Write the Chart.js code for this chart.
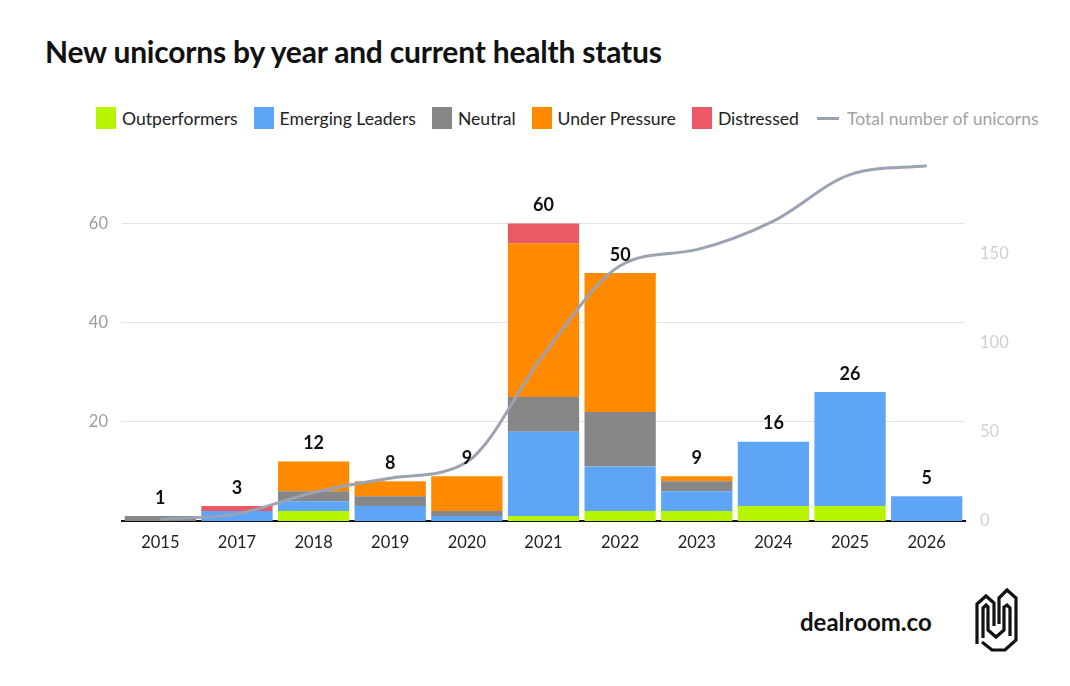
<!DOCTYPE html>
<html>
<head>
<meta charset="utf-8">
<script src="https://cdn.jsdelivr.net/npm/chart.js@4"></script>
<style>
  body { margin: 0; background: #fff; font-family: Lato, sans-serif; }
  #page { position: relative; width: 1070px; height: 686px; overflow: hidden; }
  #title { position: absolute; left: 45px; top: 33px; font-size: 30px; font-weight: 700; color: #111; letter-spacing: -0.2px; }
  #legend { position: absolute; left: 96px; top: 107px; display: flex; align-items: center; font-size: 17.6px; color: #222; }
  #legend .item { display: flex; align-items: center; margin-right: 16px; }
  #legend .box { width: 20px; height: 22px; margin-right: 6px; }
  #legend .line { width: 22px; height: 3px; margin-right: 8px; margin-left: 2px; }
  #wrap { position: absolute; left: 0; top: 139px; width: 1070px; height: 421px; }
  #brand { position: absolute; left: 800px; top: 607px; font-size: 24px; font-weight: 700; color: #111; }
  #logo { position: absolute; left: 974px; top: 586px; }
</style>
</head>
<body>
<div id="page">
  <div id="title">New unicorns by year and current health status</div>
  <div id="legend"></div>
  <div id="wrap"><canvas id="myChart"></canvas></div>
  <div id="brand">dealroom.co</div>
  <svg id="logo" width="46" height="68" viewBox="0 0 46 68" fill="none" stroke="#111" stroke-width="3.2" stroke-linejoin="miter">
    <polyline points="3,58 3,18 12,10 20,17 20,40"/>
    <polyline points="9,52 9,22 12,19 14,21 14,44 22,51 30,44 30,21 33,19 36,22 36,50"/>
    <polyline points="25,38 25,12 33,4 42,12 42,54 31,64 18,64 8,56"/>
  </svg>
</div>
<script>
const years = ['2015', '2017', '2018', '2019', '2020', '2021', '2022', '2023', '2024', '2025', '2026'];
const outperformers   = [0, 0, 2, 0, 0, 1, 2, 2, 3, 3, 0];
const emergingLeaders = [0, 2, 2, 3, 1, 17, 9, 4, 13, 23, 5];
const neutral         = [1, 0, 2, 2, 1, 7, 11, 2, 0, 0, 0];
const underPressure   = [0, 0, 6, 3, 7, 31, 28, 1, 0, 0, 0];
const distressed      = [0, 1, 0, 0, 0, 4, 0, 0, 0, 0, 0];
const totalUnicorns   = [1, 4, 16, 24, 33, 93, 143, 152, 168, 194, 199];
const leftTicks  = [20, 40, 60];
const rightTicks = [0, 50, 100, 150];

const colors = {
  green: '#b6f400',
  blue: '#5ea5f8',
  gray: '#878787',
  orange: '#ff8a00',
  red: '#ec5966',
  line: '#9ba2b4'
};

// legend in html so it can sit exactly where the original one is
const legendItems = [
  ['Outperformers', colors.green],
  ['Emerging Leaders', colors.blue],
  ['Neutral', colors.gray],
  ['Under Pressure', colors.orange],
  ['Distressed', colors.red]
];
const legend = document.getElementById('legend');
legendItems.forEach(function(it) {
  legend.insertAdjacentHTML('beforeend',
    '<div class="item"><div class="box" style="background:' + it[1] + '"></div>' + it[0] + '</div>');
});
legend.insertAdjacentHTML('beforeend',
  '<div class="item" style="color:#a3a3a3"><div class="line" style="background:' + colors.line + '"></div>Total number of unicorns</div>');

const barSets = [outperformers, emergingLeaders, neutral, underPressure, distressed];

// totals on top of each stack
const totalsPlugin = {
  id: 'totals',
  afterDatasetsDraw(chart) {
    const ctx = chart.ctx;
    const x = chart.scales.x, y = chart.scales.y;
    ctx.save();
    ctx.font = 'bold 18px Lato';
    ctx.fillStyle = '#111';
    ctx.textAlign = 'center';
    ctx.textBaseline = 'middle';
    years.forEach(function(yr, i) {
      let sum = 0;
      barSets.forEach(function(s) { sum += s[i]; });
      ctx.fillText(sum, x.getPixelForValue(i), y.getPixelForValue(sum) - 18);
    });
    ctx.restore();
  }
};

function barSet(label, data, color) {
  return {
    type: 'bar', label: label, data: data, backgroundColor: color,
    stack: 'a', yAxisID: 'y', order: 1,
    barPercentage: 0.93, categoryPercentage: 1, borderWidth: 0
  };
}

const ctx = document.getElementById('myChart').getContext('2d');
const myChart = new Chart(ctx, {
  data: {
    labels: years,
    datasets: [
      {
        type: 'line',
        label: 'Total number of unicorns',
        data: totalUnicorns,
        yAxisID: 'y2',
        borderColor: colors.line,
        borderWidth: 3,
        pointRadius: 0,
        cubicInterpolationMode: 'monotone',
        order: 0
      },
      barSet('Outperformers', outperformers, colors.green),
      barSet('Emerging Leaders', emergingLeaders, colors.blue),
      barSet('Neutral', neutral, colors.gray),
      barSet('Under Pressure', underPressure, colors.orange),
      barSet('Distressed', distressed, colors.red)
    ]
  },
  options: {
    responsive: true,
    maintainAspectRatio: false,
    animation: false,
    layout: { padding: { top: 2, left: 0, right: 0, bottom: 0 } },
    scales: {
      x: {
        stacked: true,
        grid: { display: false },
        border: { color: '#111', width: 2 },
        ticks: { color: '#222', font: { family: 'Lato', size: 16.5 }, padding: 4 },
        afterFit(scale) { scale.height = 39; }
      },
      y: {
        stacked: true,
        min: 0,
        max: 72,
        grid: { color: '#e2e2e2', drawTicks: false },
        border: { display: false },
        ticks: { color: '#9c9c9c', font: { family: 'Lato', size: 16.5 }, padding: 14 },
        afterBuildTicks(scale) { scale.ticks = leftTicks.map(function(v) { return { value: v }; }); },
        afterFit(scale) { scale.width = 122; }
      },
      y2: {
        position: 'right',
        min: 0,
        max: 200,
        grid: { display: false, drawTicks: false },
        border: { display: false },
        ticks: { color: '#d0d0d0', font: { family: 'Lato', size: 16.5 }, padding: 15 },
        afterBuildTicks(scale) { scale.ticks = rightTicks.map(function(v) { return { value: v }; }); },
        afterFit(scale) { scale.width = 105; }
      }
    },
    plugins: {
      legend: { display: false },
      tooltip: { enabled: false }
    }
  },
  plugins: [totalsPlugin]
});
</script>
</body>
</html>
